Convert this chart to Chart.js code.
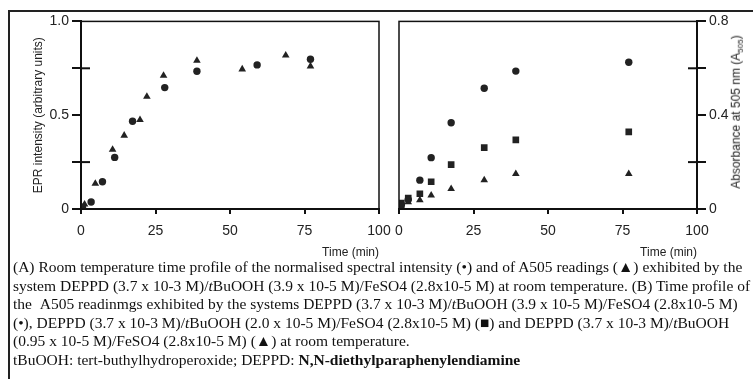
<!DOCTYPE html>
<html>
<head>
<meta charset="utf-8">
<script src="https://cdn.jsdelivr.net/npm/chart.js@4.4.1/dist/chart.umd.min.js"></script>
<style>
  body { margin: 0; background: #fff; width: 753px; height: 379px; overflow: hidden; position: relative; }
  .box { position: absolute; left: 8px; top: 10px; width: 760px; height: 380px; border-top: 2px solid #222; border-left: 2px solid #222; }
  .chart { position: absolute; top: 10px; height: 258px; }
  #left { left: 10px; width: 384px; }
  #right { left: 390px; width: 363px; }
  .ytitle-r { position: absolute; left: 737px; top: 112px; transform: translate(-50%, -50%) rotate(-90deg);
    font: 12px "Liberation Sans", Arial, sans-serif; color: #222; white-space: nowrap; }
  .ytitle-r sub { font-size: 8px; }
  .caption { position: absolute; left: 13px; top: 258px; font: 15.5px "Liberation Serif", "Times New Roman", serif;
    line-height: 18.6px; color: #111; white-space: nowrap; }
</style>
</head>
<body>
<div class="box"></div>
<div class="chart" id="left"><canvas id="chartA"></canvas></div>
<div class="chart" id="right"><canvas id="chartB"></canvas></div>
<div class="ytitle-r">Absorbance at 505 nm (A<sub>505</sub>)</div>
<div class="caption">
  <div>(A) Room temperature time profile of the normalised spectral intensity (•) and of A505 readings (▲) exhibited by the</div>
  <div>system DEPPD (3.7 x 10-3 M)/<i>t</i>BuOOH (3.9 x 10-5 M)/FeSO4 (2.8x10-5 M) at room temperature. (B) Time profile of</div>
  <div>the &nbsp;A505 readinmgs exhibited by the systems DEPPD (3.7 x 10-3 M)/<i>t</i>BuOOH (3.9 x 10-5 M)/FeSO4 (2.8x10-5 M)</div>
  <div>(•), DEPPD (3.7 x 10-3 M)/<i>t</i>BuOOH (2.0 x 10-5 M)/FeSO4 (2.8x10-5 M) (■) and DEPPD (3.7 x 10-3 M)/<i>t</i>BuOOH</div>
  <div>(0.95 x 10-5 M)/FeSO4 (2.8x10-5 M) (▲) at room temperature.</div>
  <div>tBuOOH: tert-buthylhydroperoxide; DEPPD: <b>N,N-diethylparaphenylendiamine</b></div>
</div>
<script>
// panel A: EPR intensity (circles) and A505 (triangles)
const epr_t = [0.5, 3.4, 7.2, 11.3, 17.3, 28.1, 38.9, 59.1, 77.0];
const epr_v = [0.01, 0.037, 0.145, 0.275, 0.468, 0.647, 0.734, 0.768, 0.798];
const a505_t = [1.2, 4.8, 10.6, 14.5, 19.8, 22.1, 27.7, 38.9, 54.1, 68.7, 77.0];
const a505_v = [0.025, 0.135, 0.317, 0.392, 0.475, 0.599, 0.711, 0.791, 0.745, 0.819, 0.761];

// panel B: A505 for three tBuOOH concentrations
const b_t = [0.8, 3.1, 7.0, 10.8, 17.5, 28.6, 39.2, 77.1];
const b_high = [0.018, 0.04, 0.123, 0.219, 0.368, 0.515, 0.588, 0.626];   // 3.9 x 10-5 M
const b_mid = [0.025, 0.047, 0.065, 0.116, 0.189, 0.262, 0.295, 0.329];   // 2.0 x 10-5 M
const b_low = [0.012, 0.03, 0.038, 0.058, 0.086, 0.123, 0.150, 0.150];    // 0.95 x 10-5 M

const xTicks = [0, 25, 50, 75, 100];
const leftTickLabels = { 0: '0', 0.5: '0.5', 1: '1.0' };
const rightTickLabels = { 0: '0', 0.4: '0.4', 0.8: '0.8' };

const ink = '#222';
const fontAxis = { family: '"Liberation Sans", Arial, sans-serif', size: 14 };

const pts = (xs, ys) => xs.map((x, i) => ({ x: x, y: ys[i] }));

// box around the plot area + minor ticks crossing the value axis
const framePlugin = {
  id: 'frame',
  afterDraw(chart, args, opts) {
    const { ctx, chartArea: a } = chart;
    const ys = chart.scales.y;
    ctx.save();
    ctx.strokeStyle = '#111';
    ctx.lineWidth = 1.5;
    ctx.strokeRect(a.left, a.top, a.right - a.left, a.bottom - a.top);
    ctx.lineWidth = 2;
    (opts.minor || []).forEach(v => {
      const py = ys.getPixelForValue(v);
      const x0 = ys.position === 'left' ? a.left : a.right;
      const d = ys.position === 'left' ? 9 : -9;
      ctx.beginPath();
      ctx.moveTo(x0, py);
      ctx.lineTo(x0 + d, py);
      ctx.stroke();
    });
    ctx.restore();
  }
};

function xScale() {
  return {
    type: 'linear', min: 0, max: 100,
    afterBuildTicks: s => { s.ticks = xTicks.map(v => ({ value: v })); },
    afterFit: s => { s.height = 59; s.paddingLeft = 0; s.paddingRight = 0; },
    ticks: { color: ink, font: fontAxis, padding: 9, maxRotation: 0 },
    grid: { drawOnChartArea: false, tickLength: 5, color: '#111', lineWidth: 2 },
    border: { color: '#111', width: 2 },
    title: { display: true, text: 'Time (min)', align: 'end', color: ink,
      font: { family: '"Liberation Sans", Arial, sans-serif', size: 12 }, padding: { top: 0, bottom: 8 } }
  };
}

function scatterDs(data, style, r) {
  return { data: data, pointStyle: style, pointRadius: r, backgroundColor: ink, borderColor: ink, borderWidth: 0, showLine: false };
}

new Chart(document.getElementById('chartA'), {
  type: 'scatter',
  data: {
    datasets: [
      scatterDs(pts(epr_t, epr_v), 'circle', 3.7),
      scatterDs(pts(a505_t, a505_v), 'triangle', 4.4)
    ]
  },
  options: {
    responsive: true, maintainAspectRatio: false, animation: false,
    layout: { padding: { left: 0, right: 15, top: 11, bottom: 0 } },
    plugins: { legend: { display: false }, tooltip: { enabled: false }, frame: { minor: [0.25, 0.75] } },
    scales: {
      x: xScale(),
      y: {
        type: 'linear', min: 0, max: 1,
        afterBuildTicks: s => { s.ticks = [0, 0.25, 0.5, 0.75, 1].map(v => ({ value: v })); },
        afterFit: s => { s.width = 71; },
        ticks: { color: ink, font: fontAxis, padding: 3, callback: v => leftTickLabels[v] || '' },
        grid: { drawOnChartArea: false, tickLength: 9, color: '#111', lineWidth: 2 },
        border: { color: '#111', width: 2 },
        title: { display: true, text: 'EPR intensity (arbitrary units)', color: ink,
          font: { family: '"Liberation Sans", Arial, sans-serif', size: 12 }, padding: { top: 21, bottom: 0 } }
      }
    }
  },
  plugins: [framePlugin]
});

new Chart(document.getElementById('chartB'), {
  type: 'scatter',
  data: {
    datasets: [
      scatterDs(pts(b_t, b_high), 'circle', 3.7),
      scatterDs(pts(b_t, b_mid), 'rect', 4.7),
      scatterDs(pts(b_t, b_low), 'triangle', 4.4)
    ]
  },
  options: {
    responsive: true, maintainAspectRatio: false, animation: false,
    layout: { padding: { left: 9, right: 0, top: 11, bottom: 0 } },
    plugins: { legend: { display: false }, tooltip: { enabled: false }, frame: { minor: [0.2, 0.6] } },
    scales: {
      x: xScale(),
      y: {
        type: 'linear', position: 'right', min: 0, max: 0.8,
        afterBuildTicks: s => { s.ticks = [0, 0.2, 0.4, 0.6, 0.8].map(v => ({ value: v })); },
        afterFit: s => { s.width = 56; },
        ticks: { color: ink, font: fontAxis, padding: 3, callback: v => rightTickLabels[v] || '' },
        grid: { drawOnChartArea: false, tickLength: 9, color: '#111', lineWidth: 2 },
        border: { color: '#111', width: 2 }
      }
    }
  },
  plugins: [framePlugin]
});
</script>
</body>
</html>
